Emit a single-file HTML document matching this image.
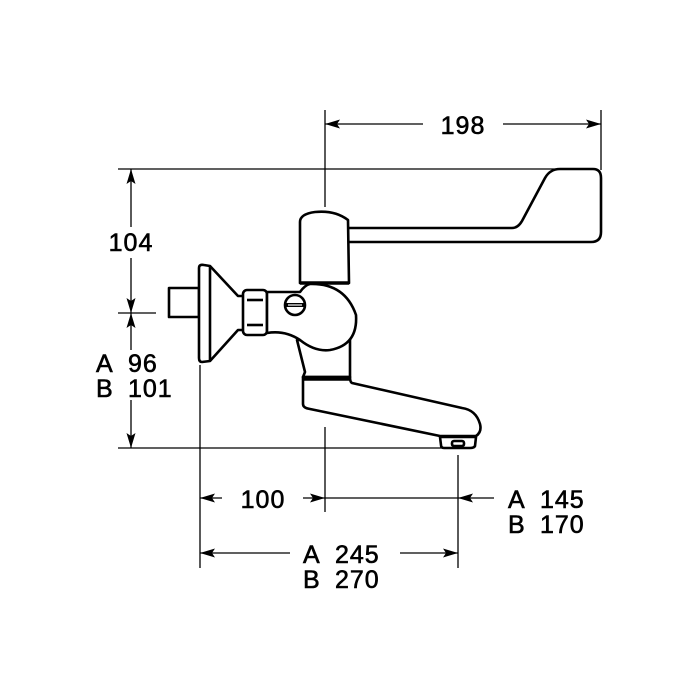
<!DOCTYPE html>
<html><head><style>body{margin:0;background:#fff}svg{display:block}</style></head><body>
<svg width="700" height="700" viewBox="0 0 700 700" xmlns="http://www.w3.org/2000/svg">
<defs>
<path id="ar" d="M0,0 L15,-4.5 L12,0 L15,4.5 Z" fill="#000"/>
</defs>
<g stroke="#000" stroke-width="1.3" fill="none">
<line x1="325" y1="110" x2="325" y2="207"/>
<line x1="601" y1="110" x2="601" y2="170"/>
<line x1="325" y1="124" x2="423" y2="124"/>
<line x1="503" y1="124" x2="601" y2="124"/>
<line x1="118" y1="169" x2="565" y2="169"/>
<line x1="118" y1="448" x2="445" y2="448"/>
<line x1="118" y1="313" x2="156" y2="313"/>
<line x1="131" y1="169" x2="131" y2="227"/>
<line x1="131" y1="258" x2="131" y2="313"/>
<line x1="131" y1="313" x2="131" y2="350"/>
<line x1="131" y1="400" x2="131" y2="448"/>
<line x1="200" y1="365" x2="200" y2="568"/>
<line x1="325" y1="427" x2="325" y2="512"/>
<line x1="458" y1="455" x2="458" y2="568"/>
<line x1="200" y1="498" x2="222" y2="498"/>
<line x1="303" y1="498" x2="458" y2="498"/>
<line x1="458" y1="498" x2="494" y2="498"/>
<line x1="200" y1="553" x2="290" y2="553"/>
<line x1="400" y1="553" x2="458" y2="553"/>
</g>
<use href="#ar" transform="translate(325,124)"/>
<use href="#ar" transform="translate(601,124) rotate(180)"/>
<use href="#ar" transform="translate(131,169) rotate(90)"/>
<use href="#ar" transform="translate(131,313) rotate(-90)"/>
<use href="#ar" transform="translate(131,313) rotate(90)"/>
<use href="#ar" transform="translate(131,448) rotate(-90)"/>
<use href="#ar" transform="translate(200,498)"/>
<use href="#ar" transform="translate(325,498) rotate(180)"/>
<use href="#ar" transform="translate(458,498)"/>
<use href="#ar" transform="translate(200,553)"/>
<use href="#ar" transform="translate(458,553) rotate(180)"/>
<g font-family="Liberation Sans, sans-serif" font-size="25" fill="#000" stroke="#000" stroke-width="0.6" letter-spacing="1">
<text x="463" y="134" text-anchor="middle">198</text>
<text x="131" y="251" text-anchor="middle">104</text>
<text x="96" y="372">A</text><text x="128" y="372">96</text>
<text x="96" y="397">B</text><text x="128" y="397">101</text>
<text x="263" y="508" text-anchor="middle">100</text>
<text x="508" y="508">A</text><text x="540" y="508">145</text>
<text x="508" y="533">B</text><text x="540" y="533">170</text>
<text x="303" y="563">A</text><text x="335" y="563">245</text>
<text x="303" y="588">B</text><text x="335" y="588">270</text>
</g>
<g stroke="#000" stroke-width="2.6" fill="#fff" stroke-linejoin="round">
<path d="M345,228 L512,228 Q518,228 522,221 L545,178 Q550,169 560,169 L593,169 Q601,169 601,178 L601,232 Q601,242 591,242 L345,242 Z"/>
<path d="M169,288 L199,288 L199,317 L169,317 Z"/>
<path d="M199,268 Q199,264 204,265 L210,266 L238,296 L248,296 L248,330 L238,330 L210,361 L202,362 Q199,362 199,358 Z"/>
<line x1="210" y1="266" x2="210" y2="361"/>
<rect x="243" y="290" width="24" height="45" rx="4"/>
<line x1="247" y1="300" x2="263" y2="300"/>
<line x1="247" y1="325" x2="263" y2="325"/>
<path d="M297,340 L305,372 L303,377 L350,377 L350,340 Z"/>
<path d="M303,377 L303,404 Q303,408 310,409 L440,436 L476,436 Q482,432 480,424 Q476,410 462,408 L352,383 Q350,382 350,377 Z"/>
<path d="M440,437 L476,437 L475,446 Q474,448 470,448 L444,448 Q441,448 441,445 Z"/>
<rect x="452" y="441" width="12" height="5" rx="2"/>
<path d="M267,292 L300,292 Q305,285 310,284 Q345,283 356,315 Q358,345 330,350 Q315,352 300,340 Q285,330 267,333 Z"/>
<path d="M300,283 L300,222 Q300,214 315,212 Q335,210 348,220 L349,283 Z"/>
<line x1="300" y1="283" x2="349" y2="283" stroke-width="3.5"/>
<line x1="303" y1="379" x2="350" y2="379" stroke-width="3.5"/>
<circle cx="295" cy="305" r="10"/>
<line x1="286" y1="305" x2="304" y2="305" stroke-width="4"/>
<line x1="288" y1="305" x2="302" y2="305" stroke="#fff" stroke-width="1.2"/>
</g>
</svg>
</body></html>
